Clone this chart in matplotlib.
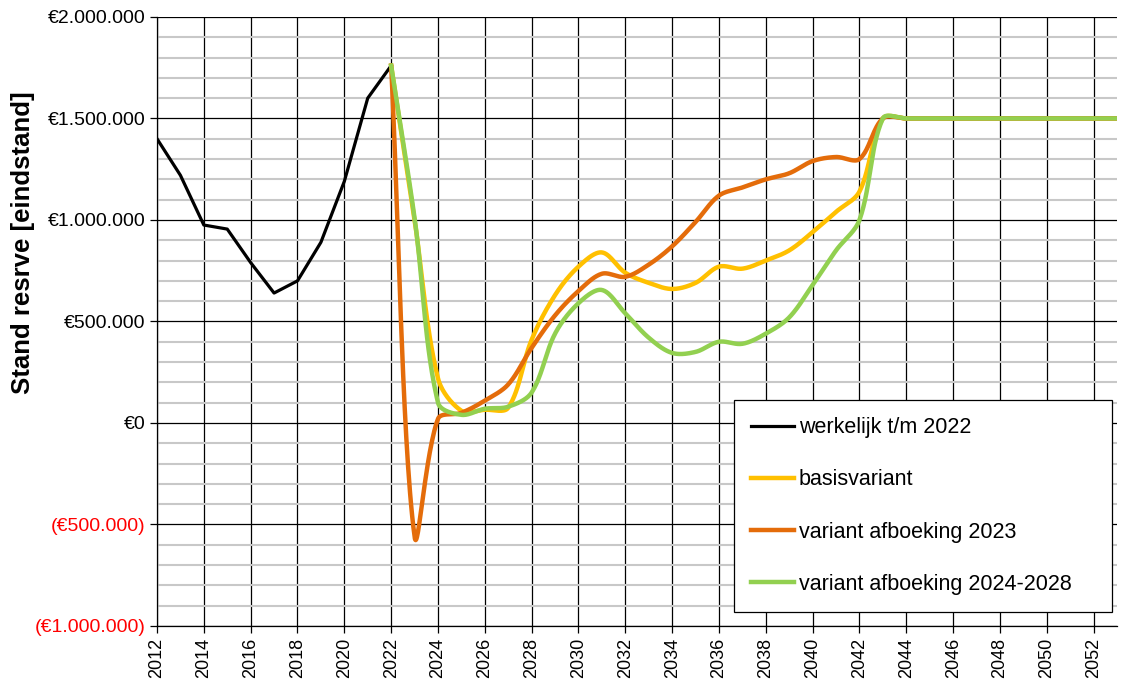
"""
Reserve projection chart: actual balance up to 2022 and three variants up to 2053.
"""

import numpy as np
import matplotlib.pyplot as plt
from matplotlib.ticker import MultipleLocator, FuncFormatter

plt.rcParams['font.family'] = ['Liberation Sans', 'DejaVu Sans']

# actual reserve (end of year), euros
hist_years = list(range(2012, 2023))
werkelijk = [1400000, 1220000, 975000, 955000, 790000, 640000, 700000,
             890000, 1190000, 1600000, 1760000]

# projected variants, euros
var_years = list(range(2022, 2054))
basisvariant = [1760000, 1000000, 220000, 60000, 65000, 75000, 410000, 630000,
                770000, 840000, 740000, 690000, 660000, 690000, 770000, 760000,
                800000, 850000, 940000, 1040000, 1140000, 1500000] + [1500000] * 10
afboeking_2023 = [1760000, -560000, 20000, 50000, 110000, 190000, 370000, 530000,
                  650000, 735000, 720000, 780000, 870000, 990000, 1120000, 1160000,
                  1200000, 1230000, 1290000, 1310000, 1300000, 1500000] + [1500000] * 10
afboeking_2024_2028 = [1760000, 1010000, 100000, 40000, 70000, 80000, 150000, 440000,
                       590000, 655000, 540000, 420000, 345000, 350000, 400000, 390000,
                       440000, 520000, 680000, 850000, 1000000, 1500000] + [1500000] * 10


def smooth(x, y, n=30, sx=23.4, sy=203 / 1e6):
    """
    Bezier curve through the points with chord-weighted tangents,
    worked out in screen proportions (close to Excel's smoothed line).
    """
    p = np.column_stack([np.asarray(x, float) * sx, np.asarray(y, float) * sy])
    k = len(p)
    c_out = np.zeros_like(p)
    c_in = np.zeros_like(p)
    for i in range(k):
        prev = p[max(i - 1, 0)]
        nxt = p[min(i + 1, k - 1)]
        tang = nxt - prev
        d_in = np.linalg.norm(p[i] - prev)
        d_out = np.linalg.norm(nxt - p[i])
        tot = d_in + d_out
        if tot == 0:
            c_out[i] = c_in[i] = p[i]
            continue
        c_out[i] = p[i] + tang * (d_out / tot) / 3
        c_in[i] = p[i] - tang * (d_in / tot) / 3
    t = np.linspace(0, 1, n, endpoint=False)[:, None]
    pts = []
    for i in range(k - 1):
        b = ((1 - t) ** 3 * p[i] + 3 * (1 - t) ** 2 * t * c_out[i]
             + 3 * (1 - t) * t ** 2 * c_in[i + 1] + t ** 3 * p[i + 1])
        pts.append(b)
    pts.append(p[-1:])
    pts = np.vstack(pts)
    return pts[:, 0] / sx, pts[:, 1] / sy


def euro(v, pos):
    s = f"{abs(v):,.0f}".replace(",", ".")
    if v < 0:
        return f"(€{s})"
    return f"€{s}"


fig = plt.figure(figsize=(11.23, 6.83), dpi=100)
ax = fig.add_axes([0.1398, 0.0835, 0.8549, 0.8917])

ax.plot(hist_years, werkelijk, color='black', linewidth=2.3, label='werkelijk t/m 2022', zorder=3)
sx, sy = smooth(var_years, basisvariant)
ax.plot(sx, sy, color='#FFC000', linewidth=3.2, label='basisvariant', zorder=4)
sx, sy = smooth(var_years, afboeking_2023)
ax.plot(sx, sy, color='#E46C0A', linewidth=3.2, label='variant afboeking 2023', zorder=5)
sx, sy = smooth(var_years, afboeking_2024_2028)
ax.plot(sx, sy, color='#92D050', linewidth=3.2, label='variant afboeking 2024-2028', zorder=6)

ax.set_xlim(2012, 2053)
ax.set_ylim(-1000000, 2000000)
ax.xaxis.set_major_locator(MultipleLocator(2))
ax.yaxis.set_major_locator(MultipleLocator(500000))
ax.yaxis.set_minor_locator(MultipleLocator(100000))
ax.yaxis.set_major_formatter(FuncFormatter(euro))

ax.grid(which='major', axis='both', color='black', linewidth=0.9)
ax.grid(which='minor', axis='y', color='#c8c8c8', linewidth=1.5)
ax.set_axisbelow(True)

for side in ['top', 'right']:
    ax.spines[side].set_visible(False)
ax.spines['left'].set_linewidth(0.9)
ax.spines['bottom'].set_linewidth(0.9)

ax.tick_params(axis='x', which='major', labelsize=13, rotation=90, length=5, width=0.9)
ax.tick_params(axis='y', which='major', labelsize=14, length=5, width=0.9)
ax.tick_params(axis='y', which='minor', length=0)

fig.canvas.draw()
for lbl, val in zip(ax.get_yticklabels(), ax.get_yticks()):
    if val < 0:
        lbl.set_color('#FF0000')

ax.set_ylabel('Stand resrve [eindstand]', fontsize=18.5, fontweight='bold')
ax.yaxis.set_label_coords(-0.127, 0.629)

leg = ax.legend(loc='lower left', bbox_to_anchor=(0.601, 0.023, 0.394, 0.345), mode='expand',
                fontsize=15.5, frameon=True, fancybox=False, edgecolor='black',
                framealpha=1, labelspacing=1.45, handlelength=2.0, handletextpad=0.2,
                borderpad=0.8, borderaxespad=0)
leg.get_frame().set_linewidth(0.9)
leg.set_zorder(10)

plt.savefig('out.png', dpi=100)
